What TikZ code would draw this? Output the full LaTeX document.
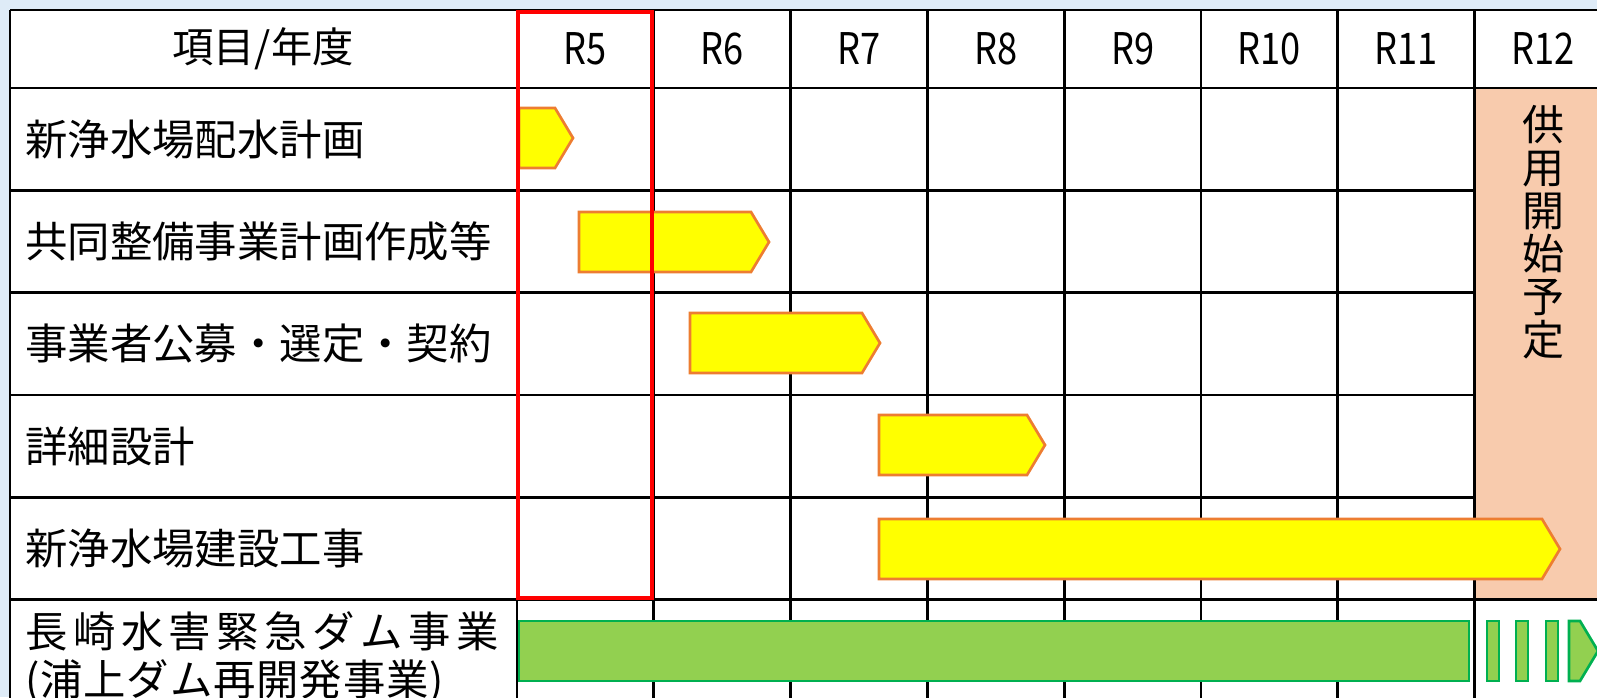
\documentclass[tikz,border=0pt]{standalone}
\usepackage{fontspec}
\usepackage{xcolor}
\setmainfont{Noto Sans CJK JP}
\newfontfamily\latinnarrow[FakeStretch=0.83]{Noto Sans CJK JP}
\newfontfamily\spreadfont[LetterSpace=13]{Noto Sans CJK JP}
\newfontfamily\tightfont[LetterSpace=2]{Noto Sans CJK JP}
\usetikzlibrary{positioning}

\definecolor{bgblue}{HTML}{DEEBF7}
\definecolor{barfill}{HTML}{FFFF00}
\definecolor{baredge}{HTML}{ED7D31}
\definecolor{damfill}{HTML}{92D050}
\definecolor{damedge}{HTML}{00B050}
\definecolor{peach}{HTML}{F8CBAD}

\newcommand{\planbar}[4]{\draw[#1] (#2,#4-30) -- (#3,#4-30) -- (#3+18,#4) -- (#3,#4+30) -- (#2,#4+30) -- cycle;}

\begin{document}
\begin{tikzpicture}[x=0.75pt,y=-0.75pt]
\tikzstyle{every node}+=[inner sep=0pt]
\tikzstyle{grid}=[black,line width=2pt]
\tikzstyle{plan}=[draw=baredge,fill=barfill,line width=2pt]
\tikzstyle{dam}=[draw=damedge,fill=damfill,line width=2pt]
\tikzstyle{item}=[anchor=west,font=\fontsize{31.8}{32}\selectfont]
\tikzstyle{year}=[font=\latinnarrow\fontsize{32.7}{33}\selectfont]
\useasboundingbox (0,0) rectangle (1597,697);
\clip (0,0) rectangle (1597,697);
\fill [bgblue] (0,0) rectangle (1597,697);
\fill [white] (10,10) rectangle (1612,702);
\fill [peach] (1475,88) rectangle (1612,599);
\foreach \y in {190.3,292.6,394.9,497.2}
  \draw [grid] (10,\y) -- (1475,\y);
\foreach \y in {10,88,599.5,701.8}
  \draw [grid] (10,\y) -- (1612,\y);
\draw [grid] (10,10) -- (10,702);
\foreach \i in {0,...,7}
  \draw [grid] (517+136.8*\i,10) -- (517+136.8*\i,702);
\draw (263,49) node (head) [font=\fontsize{31}{32}\selectfont] {項目/年度};
\foreach \yr [count=\i from 0] in {5,...,12}
  \draw (585.4+136.8*\i,49) node (r\yr) [year] {R\yr};
\draw (25,139) node (plan) [item] {新浄水場配水計画};
\draw (25,241) node (joint) [item] {共同整備事業計画作成等};
\draw (25,343) node (tender) [item] {事業者公募・選定・契約};
\draw (25,446) node (design) [item] {詳細設計};
\draw (25,548) node (build) [item] {新浄水場建設工事};
\draw (25,658) node (damtxt) [anchor=west,align=left,font=\fontsize{31.8}{36}\selectfont] {\spreadfont 長崎水害緊急ダム事業\\\tightfont (浦上ダム再開発事業)};
\draw (1543,232) node (start) [align=center,font=\fontsize{31.5}{32.25}\selectfont] {供\\用\\開\\始\\予\\定};
\planbar{plan}{519}{555}{138}
\planbar{plan}{579}{751}{242}
\planbar{plan}{690}{862}{343}
\planbar{plan}{879}{1027}{445}
\planbar{plan}{879}{1542}{549}
\draw [dam] (519,621) rectangle (1469,681);
\foreach \x in {1487,1516,1546}
  \draw [dam] (\x,621) rectangle (\x+12,681);
\planbar{dam}{1569}{1580}{651}
\draw [red,line width=3pt] (518,11.5) rectangle (652,598);
\end{tikzpicture}
\end{document}
